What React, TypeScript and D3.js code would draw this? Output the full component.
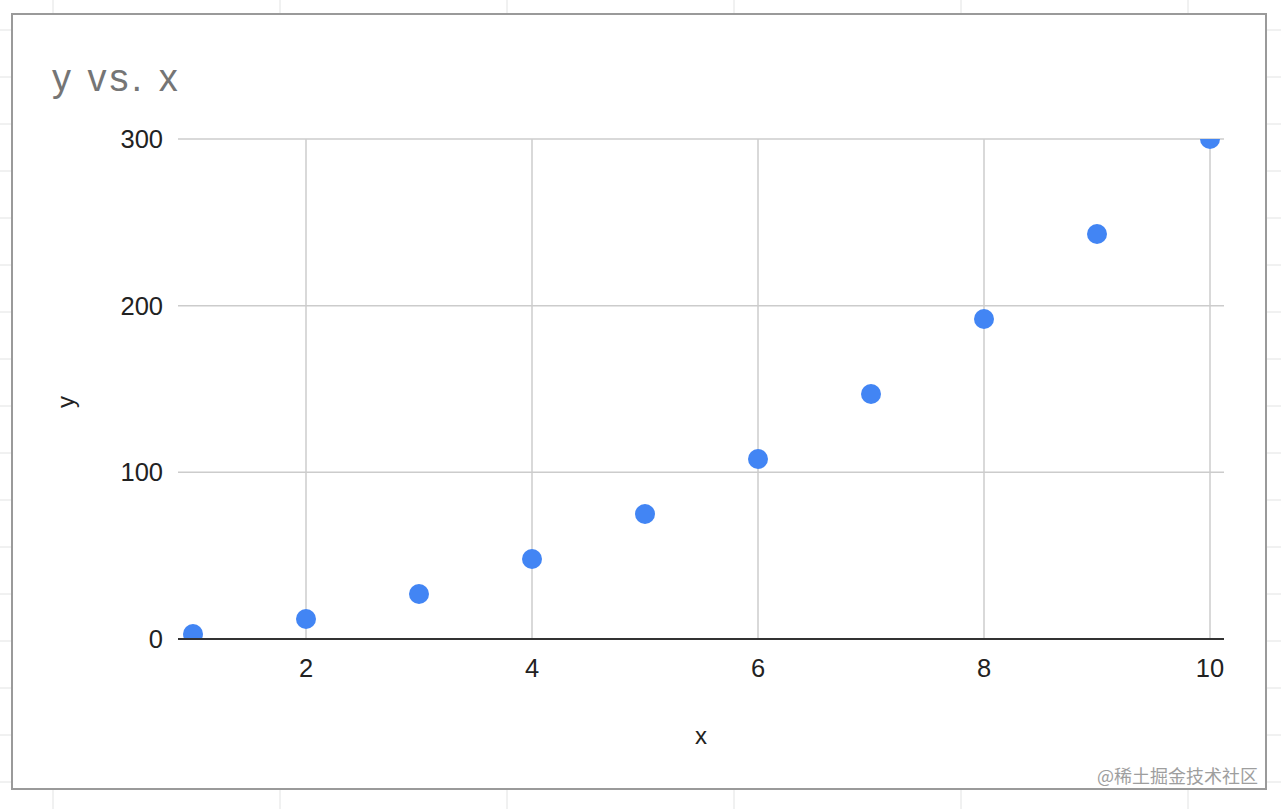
import React from "react";
import * as d3 from "d3";

const xValues = [1, 2, 3, 4, 5, 6, 7, 8, 9, 10];
const yValues = [3, 12, 27, 48, 75, 108, 147, 192, 243, 300];
const xTicks = [2, 4, 6, 8, 10];
const yTicks = [0, 100, 200, 300];
const title = "y vs. x";
const xLabel = "x";
const yLabel = "y";
const watermark = "@稀土掘金技术社区";

const W = 1281;
const H = 809;
const FONT = "Arial, 'Liberation Sans', Helvetica, sans-serif";

export default function App() {
  const plotL = 178;
  const plotR = 1224;
  const plotT = 139;
  const plotB = 639;
  const x = d3.scaleLinear().domain([1, 10]).range([193, 1210]);
  const y = d3.scaleLinear().domain([0, 300]).range([plotB, plotT]);

  const sheetV = d3.range(53, W, 227);
  const sheetH = d3.range(30, H, 47);

  return (
    <svg
      width={W}
      height={H}
      style={{ position: "absolute", left: 0, top: 0, display: "block" }}
      fontFamily={FONT}
    >
      <rect x={0} y={0} width={W} height={H} fill="#ffffff" />
      {sheetV.map((v) => (
        <line key={"sv" + v} x1={v} x2={v} y1={0} y2={H} stroke="#e2e3e3" strokeWidth={1} />
      ))}
      {sheetH.map((v) => (
        <line key={"sh" + v} x1={0} x2={W} y1={v} y2={v} stroke="#e2e3e3" strokeWidth={1} />
      ))}
      <rect x={12} y={14} width={1254} height={775} fill="#ffffff" stroke="#9a9a9a" strokeWidth={2} />

      <text x={52} y={91} fontSize={38} fill="#757575" letterSpacing={3}>
        {title}
      </text>

      <defs>
        <clipPath id="plotClip">
          <rect x={plotL} y={plotT} width={plotR - plotL} height={plotB - plotT} />
        </clipPath>
      </defs>

      {xTicks.map((t) => (
        <line key={"gx" + t} x1={x(t)} x2={x(t)} y1={plotT} y2={plotB} stroke="#cccccc" strokeWidth={1.5} />
      ))}
      {yTicks.filter((t) => t !== 0).map((t) => (
        <line key={"gy" + t} x1={plotL} x2={plotR} y1={y(t)} y2={y(t)} stroke="#cccccc" strokeWidth={1.5} />
      ))}

      <g clipPath="url(#plotClip)">
        {xValues.map((xv, i) => (
          <circle key={"p" + i} cx={x(xv)} cy={y(yValues[i])} r={10} fill="#4285f4" />
        ))}
      </g>

      <line x1={plotL} x2={plotR} y1={y(0)} y2={y(0)} stroke="#333333" strokeWidth={2} />

      {yTicks.map((t) => (
        <text key={"ty" + t} x={163} y={y(t)} dy="0.35em" textAnchor="end" fontSize={25.5} fill="#222222">
          {t}
        </text>
      ))}
      {xTicks.map((t) => (
        <text key={"tx" + t} x={x(t)} y={677} textAnchor="middle" fontSize={25.5} fill="#222222">
          {t}
        </text>
      ))}

      <text x={701} y={744} textAnchor="middle" fontSize={24} fill="#222222">
        {xLabel}
      </text>
      <text
        transform={`translate(74, 402) rotate(-90)`}
        textAnchor="middle"
        fontSize={24}
        fill="#222222"
      >
        {yLabel}
      </text>

      <text x={1258} y={783} textAnchor="end" fontSize={18} fill="#9e9e9e" fontFamily="'Noto Sans CJK SC', sans-serif">
        {watermark}
      </text>
    </svg>
  );
}
